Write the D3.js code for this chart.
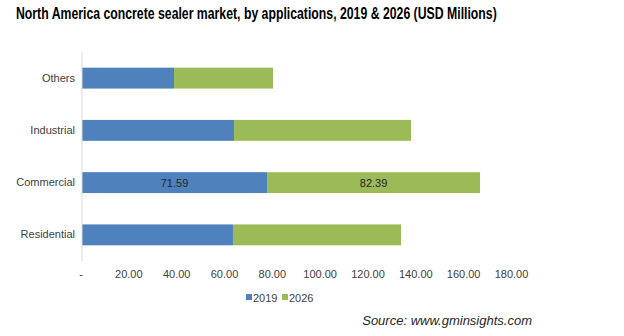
<!DOCTYPE html>
<html><head><meta charset="utf-8">
<script src="https://cdn.jsdelivr.net/npm/d3@7"></script>
<style>body{margin:0;background:#fff}svg{display:block}</style>
</head><body>
<script>
const categories = ["Others", "Industrial", "Commercial", "Residential"];
const values2019 = [35.6, 58.8, 71.59, 58.4];
const values2026 = [38.3, 68.5, 82.39, 65.0];
const seriesNames = ["2019", "2026"];
const tickValues = [0, 20, 40, 60, 80, 100, 120, 140, 160, 180];
const tickLabels = ["-", "20.00", "40.00", "60.00", "80.00", "100.00", "120.00", "140.00", "160.00", "180.00"];
const labeledCategory = "Commercial";

const W = 624, H = 336;
const colors = ["#4f81bd", "#9bbb59"];
const svg = d3.select("body").append("svg").attr("width", W).attr("height", H);

const title = svg.append("text").attr("x", 0).attr("y", 0)
  .attr("font-family", "Liberation Sans, Arial, sans-serif").attr("font-weight", "bold")
  .attr("font-size", 16).attr("fill", "#000")
  .text("North America concrete sealer market, by applications, 2019 & 2026 (USD Millions)");
const natural = title.node().getComputedTextLength();
title.attr("transform", `translate(16,19) scale(${481 / natural},1)`);

const x = d3.scaleLinear().domain([0, 180]).range([82, 82 + 180 * 2.585]);
const xAxisScale = d3.scaleLinear().domain([0, 180]).range([80.5, 511]);
const y = d3.scaleBand().domain(categories).range([52, 261]).paddingInner(0.6).paddingOuter(0.3);

const rows = categories.map((c, i) => ({cat: c, v: [values2019[i], values2026[i]]}));

const g = svg.append("g");
rows.forEach(r => {
  let start = 0;
  r.v.forEach((v, k) => {
    g.append("rect").attr("x", x(start)).attr("y", y(r.cat))
      .attr("width", x(start + v) - x(start)).attr("height", y.bandwidth())
      .attr("fill", colors[k]);
    if (r.cat === labeledCategory) {
      g.append("text").attr("x", (x(start) + x(start + v)) / 2)
        .attr("y", y(r.cat) + y.bandwidth() / 2 + 4)
        .attr("text-anchor", "middle").attr("font-family", "Liberation Sans, Arial, sans-serif")
        .attr("font-size", 11).attr("fill", "#262626").text(v.toFixed(2));
    }
    start += v;
  });
});

// vertical category axis
const yAxis = svg.append("g").attr("transform", "translate(82,0)")
  .call(d3.axisLeft(y).tickSize(0).tickPadding(7));
yAxis.select(".domain").attr("stroke", "#d9d9d9").attr("d", "M0,52V261");
yAxis.selectAll("text").attr("font-family", "Liberation Sans, Arial, sans-serif")
  .attr("font-size", 11).attr("fill", "#404040");

// horizontal value axis (labels only)
const xAxis = svg.append("g").attr("transform", "translate(0,262)")
  .call(d3.axisBottom(xAxisScale).tickValues(tickValues).tickSize(0).tickPadding(8)
    .tickFormat((d, i) => tickLabels[i]));
xAxis.select(".domain").remove();
xAxis.selectAll("text").attr("font-family", "Liberation Sans, Arial, sans-serif")
  .attr("font-size", 11).attr("fill", "#404040");

// legend
const legendX = [246, 282];
seriesNames.forEach((s, k) => {
  svg.append("rect").attr("x", legendX[k]).attr("y", 294).attr("width", 6).attr("height", 6).attr("fill", colors[k]);
  svg.append("text").attr("x", legendX[k] + 7).attr("y", 301.5)
    .attr("font-family", "Liberation Sans, Arial, sans-serif").attr("font-size", 11)
    .attr("fill", "#404040").text(s);
});

svg.append("text").attr("x", 532).attr("y", 325).attr("text-anchor", "end")
  .attr("font-family", "Liberation Sans, Arial, sans-serif").attr("font-style", "italic")
  .attr("font-size", 13).attr("fill", "#262626").text("Source: www.gminsights.com");
</script>
</body></html>
